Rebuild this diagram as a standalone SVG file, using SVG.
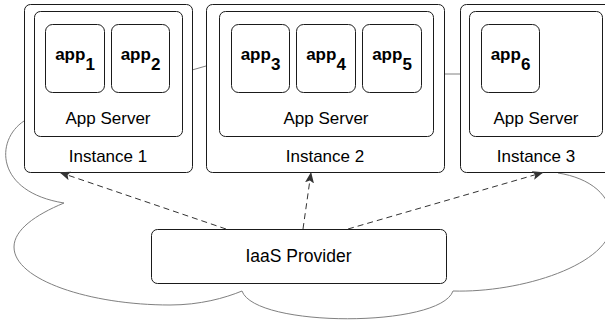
<svg xmlns="http://www.w3.org/2000/svg" width="605" height="320" viewBox="0 0 605 320">
  <style>
    .box { fill: #ffffff; stroke: #1a1a1a; stroke-width: 1; }
    .cloud { fill: #ffffff; stroke: #808080; stroke-width: 1; }
    .edge { fill: none; stroke: #333333; stroke-width: 1; stroke-dasharray: 6 4; }
    .lbl { font-family: "Liberation Sans", Arial, Helvetica, sans-serif; font-size: 17px; fill: #000000; text-anchor: middle; }
    .app { font-family: "Liberation Sans", Arial, Helvetica, sans-serif; font-size: 17px; font-weight: bold; fill: #000000; text-anchor: middle; }
  </style>
  <defs>
    <marker id="arrow" viewBox="0 0 11 9" refX="10.5" refY="4.5" markerWidth="11" markerHeight="9" markerUnits="userSpaceOnUse" orient="auto">
      <path d="M0,0 L11,4.5 L0,9 L2.5,4.5 Z" fill="#333333"/>
    </marker>
  </defs>

  <!-- cloud backdrop behind the instances -->
  <g id="cloud">
    <path class="cloud" d="M 24,121 C -5,140 -5,192 64,203
      C 35,215 14,230 14,247
      C 14,280 90,305 170,305
      C 200,305 225,298 242,291
      C 255,328 440,328 453,291
      C 520,293 612,265 612,222
      C 612,195 590,178 558,173
      C 560,120 520,74 470,74
      L 444,74
      L 206,66
      L 192,70
      C 120,85 40,105 24,121 Z"/>
  </g>

  <!-- Instance 1 -->
  <g id="instance1">
    <rect class="box" x="24.5" y="4.5" width="168" height="168" rx="6"/>
    <rect class="box" x="34.5" y="11.5" width="148" height="125" rx="6"/>
    <text class="lbl" x="108" y="124">App Server</text>
    <text class="lbl" x="108" y="162">Instance 1</text>
  </g>
  <g id="app1">
    <rect class="box" x="45.5" y="24.5" width="59" height="68" rx="7"/>
    <text class="app" x="75" y="60">app<tspan dy="10">1</tspan></text>
  </g>
  <g id="app2">
    <rect class="box" x="111.5" y="24.5" width="58" height="68" rx="7"/>
    <text class="app" x="140.5" y="60">app<tspan dy="10">2</tspan></text>
  </g>

  <!-- Instance 2 -->
  <g id="instance2">
    <rect class="box" x="206.5" y="4.5" width="238" height="168" rx="6"/>
    <rect class="box" x="219.5" y="11.5" width="214" height="125" rx="6"/>
    <text class="lbl" x="326" y="124">App Server</text>
    <text class="lbl" x="325" y="162">Instance 2</text>
  </g>
  <g id="app3">
    <rect class="box" x="231.5" y="24.5" width="58" height="68" rx="7"/>
    <text class="app" x="260.5" y="60">app<tspan dy="10">3</tspan></text>
  </g>
  <g id="app4">
    <rect class="box" x="296.5" y="24.5" width="59" height="68" rx="7"/>
    <text class="app" x="326" y="60">app<tspan dy="10">4</tspan></text>
  </g>
  <g id="app5">
    <rect class="box" x="362.5" y="24.5" width="59" height="68" rx="7"/>
    <text class="app" x="392" y="60">app<tspan dy="10">5</tspan></text>
  </g>

  <!-- Instance 3 -->
  <g id="instance3">
    <rect class="box" x="460.5" y="4.5" width="152" height="168" rx="6"/>
    <rect class="box" x="469.5" y="11.5" width="133" height="125" rx="6"/>
    <text class="lbl" x="536" y="124">App Server</text>
    <text class="lbl" x="536" y="162">Instance 3</text>
  </g>
  <g id="app6">
    <rect class="box" x="481.5" y="24.5" width="58" height="68" rx="7"/>
    <text class="app" x="510.5" y="60">app<tspan dy="10">6</tspan></text>
  </g>

  <!-- IaaS Provider -->
  <g id="iaas">
    <rect class="box" x="151.5" y="229.5" width="295" height="54" rx="6"/>
    <text class="lbl" x="298.5" y="262" style="font-size:17.5px">IaaS Provider</text>
  </g>

  <!-- provisioning connectors -->
  <g id="connectors">
    <line class="edge" x1="226" y1="229" x2="60" y2="172.5" marker-end="url(#arrow)"/>
    <line class="edge" x1="303" y1="229" x2="311" y2="172.5" marker-end="url(#arrow)"/>
    <line class="edge" x1="348" y1="229" x2="543" y2="172.5" marker-end="url(#arrow)"/>
  </g>
</svg>
